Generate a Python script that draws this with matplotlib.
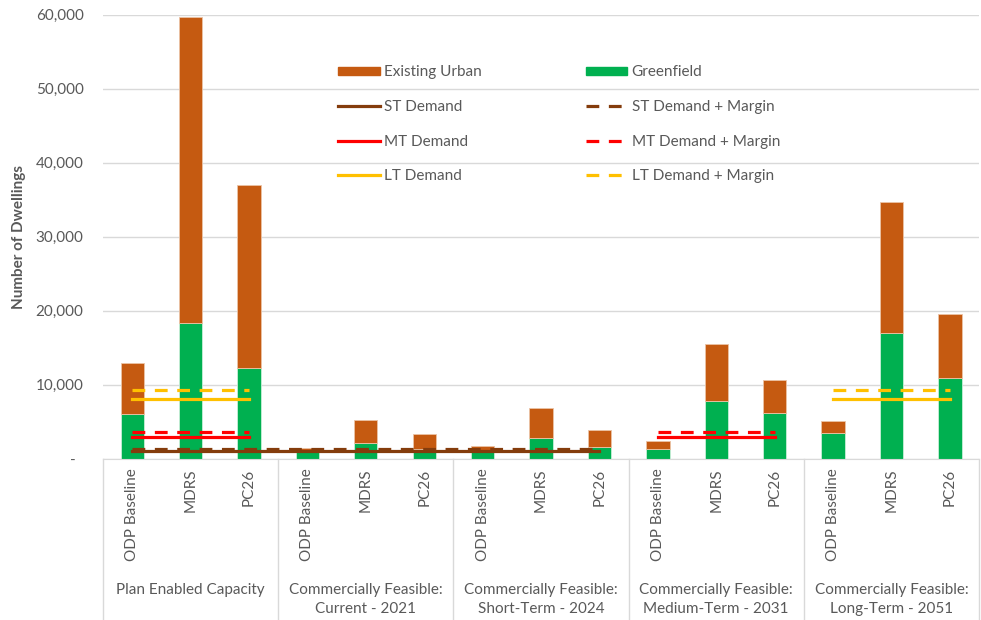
import numpy as np
import matplotlib.pyplot as plt
from matplotlib.patches import Patch
from matplotlib.lines import Line2D
from matplotlib.ticker import FuncFormatter
import matplotlib.transforms as mtransforms

plt.rcParams['font.family'] = ['Lato', 'DejaVu Sans']

groups = ['Plan Enabled Capacity',
          'Commercially Feasible:\nCurrent - 2021',
          'Commercially Feasible:\nShort-Term - 2024',
          'Commercially Feasible:\nMedium-Term - 2031',
          'Commercially Feasible:\nLong-Term - 2051']
scenarios = ['ODP Baseline', 'MDRS', 'PC26']

# dwellings per bar, group by group (ODP Baseline, MDRS, PC26)
greenfield = [6100, 18400, 12300,
              1000, 2150, 1300,
              1200, 2800, 1600,
              1300, 7850, 6200,
              3500, 17000, 10900]
existing_urban = [6900, 41300, 24700,
                  500, 3150, 2100,
                  500, 4050, 2350,
                  1150, 7650, 4500,
                  1550, 17700, 8700]

st_demand = 1050
mt_demand = 2980
lt_demand = 8100
st_margin = 1.20
mt_margin = 1.20
lt_margin = 1.15

GREY = '#595959'
C_URBAN = '#C55A11'
C_GREEN = '#00B050'
C_ST = '#843C0C'
C_MT = '#FF0000'
C_LT = '#FFC000'

x = np.arange(len(greenfield))
n = len(scenarios)


def demand_series(value, group_idx):
    y = np.full(len(x), np.nan)
    for g in group_idx:
        y[g * n:(g + 1) * n] = value
    return y


fig = plt.figure(figsize=(9.81, 6.2), dpi=100)
ax = fig.add_axes([0.105, 0.26, 0.893, 0.716])

ax.bar(x, greenfield, width=0.4, color=C_GREEN, edgecolor='#C8EED8', linewidth=0.6, zorder=2)
ax.bar(x, existing_urban, width=0.4, bottom=greenfield, color=C_URBAN,
       edgecolor='#EBC3A6', linewidth=0.6, zorder=2)

dash = (4, 3)
lw = 2.3
lines = [
    (st_demand, [0, 1, 2], C_ST),
    (mt_demand, [0, 3], C_MT),
    (lt_demand, [0, 4], C_LT),
]
for value, idx, color in lines:
    ax.plot(x, demand_series(value, idx), color=color, lw=lw, zorder=3)
ax.plot(x, demand_series(st_demand * st_margin, [0, 1, 2]), color=C_ST, lw=lw, dashes=dash, zorder=3)
ax.plot(x, demand_series(mt_demand * mt_margin, [0, 3]), color=C_MT, lw=lw, dashes=dash, zorder=3)
ax.plot(x, demand_series(lt_demand * lt_margin, [0, 4]), color=C_LT, lw=lw, dashes=dash, zorder=3)

ax.set_xlim(-0.5, len(x) - 0.5)
ax.set_ylim(0, 60000)
ax.set_yticks(np.arange(0, 60001, 10000))
ax.yaxis.set_major_formatter(FuncFormatter(lambda v, p: '-  ' if v == 0 else f'{v:,.0f}'))
ax.grid(axis='y', color='#D9D9D9', lw=1, zorder=0)
ax.set_axisbelow(True)
for s in ['top', 'right', 'left']:
    ax.spines[s].set_visible(False)
ax.spines['bottom'].set_color('#D9D9D9')
ax.tick_params(axis='y', length=0, pad=14, labelsize=11, labelcolor=GREY)
ax.tick_params(axis='x', length=0, pad=7, labelsize=11, labelcolor=GREY)
ax.set_xticks(x)
ax.set_xticklabels(scenarios * len(groups), rotation=90, va='top')
ax.set_ylabel('Number of Dwellings', fontsize=11, fontweight='bold', color=GREY, labelpad=7)

# group labels and separators under the axis
trans = mtransforms.blended_transform_factory(ax.transData, ax.transAxes)
for i, g in enumerate(groups):
    ax.text(i * n + 1, -0.280, g, transform=trans, ha='center', va='top',
            fontsize=11, color=GREY, linespacing=1.45)
for b in np.arange(-0.5, len(x), n):
    ax.plot([b, b], [0, -0.37], transform=trans, color='#D9D9D9', lw=1, clip_on=False)

handles = [
    Patch(color=C_URBAN, label='Existing Urban'),
    Line2D([], [], color=C_ST, lw=lw, label='ST Demand'),
    Line2D([], [], color=C_MT, lw=lw, label='MT Demand'),
    Line2D([], [], color=C_LT, lw=lw, label='LT Demand'),
    Patch(color=C_GREEN, label='Greenfield'),
    Line2D([], [], color=C_ST, lw=lw, dashes=dash, label='ST Demand + Margin'),
    Line2D([], [], color=C_MT, lw=lw, dashes=dash, label='MT Demand + Margin'),
    Line2D([], [], color=C_LT, lw=lw, dashes=dash, label='LT Demand + Margin'),
]
leg = ax.legend(handles=handles, ncol=2, frameon=False, loc='upper left',
                bbox_to_anchor=(0.253, 0.917), fontsize=11, labelcolor=GREY,
                handlelength=2.7, handleheight=0.5, handletextpad=0.3,
                columnspacing=6.8, labelspacing=1.35)

fig.savefig('out.png', dpi=100)
